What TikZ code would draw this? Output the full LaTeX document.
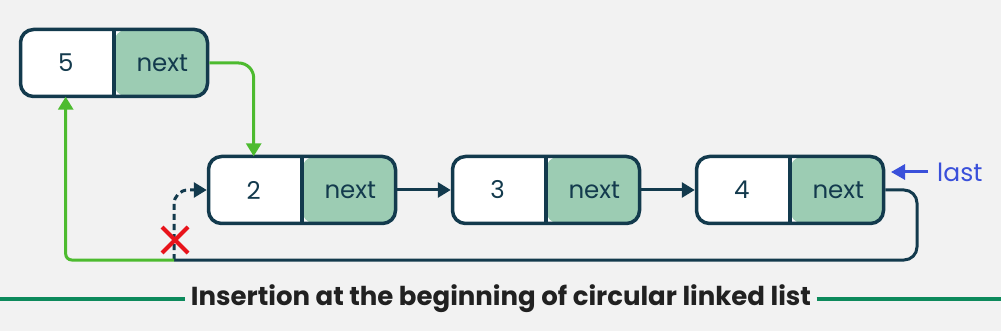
\documentclass[tikz,border=0pt]{standalone}
\usepackage{fontspec}
\setmainfont{Poppins}
\usetikzlibrary{arrows.meta,positioning,shapes.misc}
\definecolor{ink}{HTML}{133A4D}
\definecolor{nextfill}{HTML}{9CCCB3}
\definecolor{linkgreen}{HTML}{4DBB2F}
\definecolor{lastblue}{HTML}{3A50DA}
\definecolor{cutred}{HTML}{E8131B}
\definecolor{rulegreen}{HTML}{0D8A5C}
\definecolor{paper}{HTML}{F2F2F2}

\tikzset{
  listbox/.style={draw=ink,line width=3.5pt,rounded corners=13pt,fill=white,
    minimum width=187pt,minimum height=67pt,inner sep=0pt,
    path picture={
      \fill[nextfill] (path picture bounding box.north) rectangle (path picture bounding box.south east);
      \draw[ink,line width=3.5pt] (path picture bounding box.north) -- (path picture bounding box.south);}},
  cell/.style={minimum width=93.5pt,minimum height=67pt,inner sep=0pt,text=ink,
    font=\fontsize{24.5}{28}\selectfont},
  link/.style={ink,line width=3pt,-{Triangle[length=13pt,width=15pt]}},
  newlink/.style={linkgreen,line width=3pt,-{Triangle[length=13pt,width=15pt]}},
}

\begin{document}
\begin{tikzpicture}[x=1pt,y=-1pt]
  \useasboundingbox[fill=paper] (0,0) rectangle (1001,331);

  % nodes of the list
  \node[listbox] (b5) at (114,63) {};
  \node[cell,anchor=west] (v5) at (b5.west) {5};
  \node[cell,anchor=east] (n5) at (b5.east) {next};

  \node[listbox] (b2) at (302,190) {};
  \node[cell,anchor=west] (v2) at (b2.west) {2};
  \node[cell,anchor=east] (n2) at (b2.east) {next};

  \node[listbox,right=53.5pt of b2] (b3) {};
  \node[cell,anchor=west] (v3) at (b3.west) {3};
  \node[cell,anchor=east] (n3) at (b3.east) {next};

  \node[listbox,right=53.5pt of b3] (b4) {};
  \node[cell,anchor=west] (v4) at (b4.west) {4};
  \node[cell,anchor=east] (n4) at (b4.east) {next};

  % last pointer
  \node[text=lastblue,font=\fontsize{25}{28}\selectfont,anchor=west,inner sep=0pt] (last) at (937,172) {last};
  \coordinate (lastptr) at (891,172);
  \draw[lastblue,line width=3pt,-{Triangle[length=14pt,width=15pt]}] ([xshift=-9pt]last.west) -- (lastptr);

  % links
  \draw[link] (b2.east) -- (b3.west);
  \draw[link] (b3.east) -- (b4.west);
  \coordinate (join) at (174,260);
  \coordinate (turn) at (917,260);
  \draw[ink,line width=3pt,rounded corners=13pt] (b4.east) -| (turn) -- (join);
  \draw[ink,line width=3pt,dashed,dash pattern=on 6pt off 4pt,rounded corners=14pt,
    -{Triangle[length=13pt,width=15pt]}] (join) |- (b2.west);
  \draw[newlink,rounded corners=6pt] (join) -| (v5.south);
  \draw[newlink,rounded corners=15pt] (b5.east) -| (v2.north);
  \node[cross out,draw=cutred,line width=4pt,minimum size=22pt] (cut) at (175,240) {};

  % caption
  \node[font=\fontsize{26}{30}\selectfont\bfseries,text=black!87] (cap) at (501,299)
    {Insertion at the beginning of circular linked list};
  \coordinate (ruleL) at (0,299);
  \coordinate (ruleR) at (1001,299);
  \draw[rulegreen,line width=4pt] (ruleL) -- ([xshift=-2pt]cap.west);
  \draw[rulegreen,line width=4pt] ([xshift=2pt]cap.east) -- (ruleR);
\end{tikzpicture}
\end{document}
